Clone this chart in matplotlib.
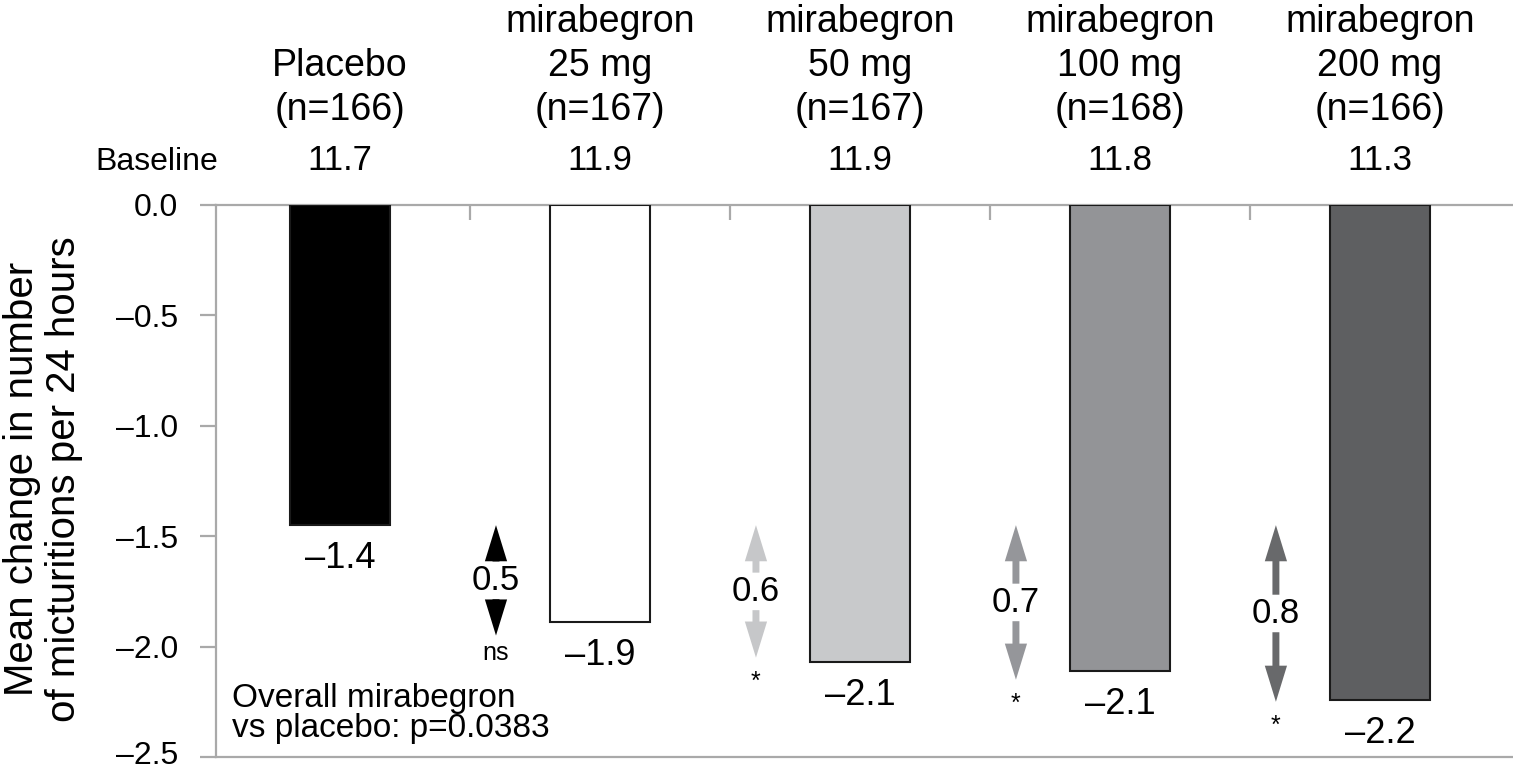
import numpy as np
import matplotlib
matplotlib.use("Agg")
import matplotlib.pyplot as plt
from matplotlib.transforms import ScaledTranslation

plt.rcParams['font.family'] = ['Liberation Sans', 'DejaVu Sans']

# treatment groups
group_lines = [["Placebo"],
               ["mirabegron", "25 mg"],
               ["mirabegron", "50 mg"],
               ["mirabegron", "100 mg"],
               ["mirabegron", "200 mg"]]
n_counts = [166, 167, 167, 168, 166]
baseline = [11.7, 11.9, 11.9, 11.8, 11.3]
# mean change from baseline in micturitions / 24 h
change = [-1.45, -1.89, -2.07, -2.11, -2.24]
# difference vs placebo for each mirabegron dose
diff_vs_placebo = [0.5, 0.6, 0.7, 0.8]
signif = ["ns", "*", "*", "*"]
overall_p = "0.0383"

bar_colors = ["#000000", "#ffffff", "#c8c9cb", "#939497", "#5e5f61"]
arrow_colors = ["#000000", "#c6c7c9", "#95969a", "#68696b"]
axis_gray = "#a9a9a9"

W, H = 1513, 772
fig = plt.figure(figsize=(W / 100, H / 100), dpi=100)
ax = fig.add_axes([216 / W, 15 / H, 1 - 216 / W, (757 - 205) / H])


def fx(px):
    return px / W


def fy(py):
    return 1 - py / H


def dash(s):
    return s.replace("-", "\u2013")


x = np.arange(len(change))
ax.bar(x, change, width=0.385, color=bar_colors, edgecolor="#1a1a1a",
       linewidth=1.5, zorder=3)

ax.set_xlim(-0.477, 4.512)
ax.set_ylim(-2.5, 0)

ax.spines["right"].set_visible(False)
for side in ["left", "top", "bottom"]:
    ax.spines[side].set_color(axis_gray)
    ax.spines[side].set_linewidth(1.6)

yt = np.arange(0, -2.51, -0.5)
ax.set_yticks(yt)
ax.set_yticklabels([dash(f"{v:.1f}") for v in yt], fontsize=23)
ax.tick_params(axis="y", direction="out", length=11.5, width=1.6,
               color=axis_gray, pad=16)
# lift the lowest label a little so it stays inside the figure
low = ax.get_yticklabels()[-1]
low.set_transform(low.get_transform()
                  + ScaledTranslation(0, 4 / 100, fig.dpi_scale_trans))

ax.xaxis.set_ticks_position("top")
ax.set_xticks(x[:-1] + 0.5)
ax.tick_params(axis="x", direction="in", length=11, width=1.6,
               color=axis_gray, labeltop=False, labelbottom=False)

# value labels under each bar
for xi, v in zip(x, change):
    ax.annotate(dash(f"{v:.1f}"), (xi, v), xytext=(0, -11.5),
                textcoords="offset points", ha="center", va="top",
                fontsize=26)

# difference arrows from placebo level
for i, (d, s, c) in enumerate(zip(diff_vs_placebo, signif, arrow_colors)):
    xa = x[i + 1] - 0.4
    top = change[0]
    bot = change[0] - d
    mid = (top + bot) / 2
    gap = 0.085
    style = "simple,head_length=1.3,head_width=0.8,tail_width=0.25"
    for a, b in [(mid + gap, top), (mid - gap, bot)]:
        ax.annotate("", xy=(xa, b), xytext=(xa, a),
                    arrowprops=dict(arrowstyle=style, color=c, lw=0,
                                    shrinkA=0, shrinkB=0, mutation_scale=20),
                    zorder=4)
    ax.text(xa, mid, f"{d:.1f}", ha="center", va="center", fontsize=25,
            zorder=5)
    ax.annotate(s, (xa, bot), xytext=(0, -4 if s == "ns" else -9),
                textcoords="offset points", ha="center", va="top",
                fontsize=18)

ax.text(fx(232), fy(683), "Overall mirabegron\nvs placebo: p=" + overall_p,
        transform=fig.transFigure, ha="left", va="top", fontsize=24,
        linespacing=0.95)

# group headers and baseline values
for xi, lines, n, b in zip(x, group_lines, n_counts, baseline):
    cx = fx(340 + 260 * xi)
    rows = lines + [f"(n={n})"]
    for k, row in enumerate(reversed(rows)):
        fig.text(cx, fy(120 - 44 * k), row, ha="center", va="baseline",
                 fontsize=27)
    fig.text(cx, fy(170), f"{b:.1f}", ha="center", va="baseline",
             fontsize=25)
fig.text(fx(218), fy(170), "Baseline", ha="right", va="baseline",
         fontsize=23)

fig.text(fx(43), fy(479), "Mean change in number\nof micturitions per 24 hours",
         rotation=90, ha="center", va="center", fontsize=29, linespacing=1.12)

fig.savefig("out.png", dpi=100, facecolor="white")
